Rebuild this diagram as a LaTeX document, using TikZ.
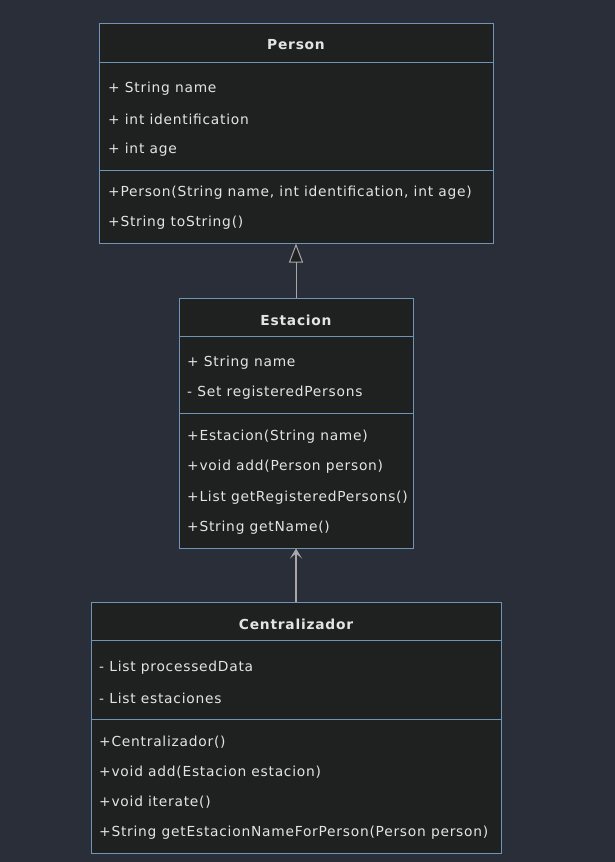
\documentclass[tikz,border=0pt]{standalone}
\usepackage{fontspec}
\setmainfont{DejaVu Sans}[LetterSpace=5.5]
\usetikzlibrary{arrows.meta,positioning}
\definecolor{bgcol}{HTML}{2A2E39}
\definecolor{boxfill}{HTML}{1F2020}
\definecolor{boxline}{HTML}{6F94B8}
\definecolor{txtcol}{HTML}{E4E4E4}
\definecolor{arrcol}{HTML}{A8A8A8}
\tikzset{
  classbox/.style={draw=boxline, fill=boxfill, line width=1pt, inner sep=0pt},
  divider/.style={draw=boxline, line width=1pt},
  title/.style={text=txtcol, font=\fontsize{13.8}{16}\selectfont\bfseries, inner sep=0pt},
  member/.style={text=txtcol, font=\fontsize{13.8}{16}\selectfont, anchor=west, inner sep=0pt},
  inherit/.style={draw=arrcol, line width=1pt, -{Triangle[open, fill=boxfill, length=19pt, width=14pt]}},
  assoc/.style={draw=arrcol, line width=1.2pt, -{Stealth[length=10pt, width=12pt, inset=5pt]}}
}
\begin{document}
\begin{tikzpicture}[x=1pt, y=-1pt]
  \useasboundingbox[fill=bgcol] (0,0) rectangle (615,862);
  % Person
  \node[classbox, minimum width=394pt, minimum height=220pt] (person) at (296,133) {};
  \draw[divider] (99,62) -- (493,62);
  \draw[divider] (99,170) -- (493,170);
  \node[title] (personT) at (296,45) {Person};
  \node[member] (p1) at (108,89) {+ String name};
  \node[member] (p2) at (108,119) {+ int identification};
  \node[member] (p3) at (108,150) {+ int age};
  \node[member] (p4) at (108,193) {+Person(String name, int identification, int age)};
  \node[member] (p5) at (108,223) {+String toString()};
  % Estacion
  \node[classbox, minimum width=234pt, minimum height=250pt] (estacion) at (296,423) {};
  \draw[divider] (179,336) -- (413,336);
  \draw[divider] (179,413) -- (413,413);
  \node[title] (estT) at (296,320) {Estacion};
  \node[member] (e1) at (187,363) {+ String name};
  \node[member] (e2) at (187,393) {- Set registeredPersons};
  \node[member] (e3) at (187,437) {+Estacion(String name)};
  \node[member] (e4) at (187,467) {+void add(Person person)};
  \node[member] (e5) at (187,498) {+List getRegisteredPersons()};
  \node[member] (e6) at (187,528) {+String getName()};
  % Centralizador
  \node[classbox, minimum width=410pt, minimum height=251pt] (central) at (296,727.5) {};
  \draw[divider] (91,640) -- (501,640);
  \draw[divider] (91,719) -- (501,719);
  \node[title] (cenT) at (296,624) {Centralizador};
  \node[member] (c1) at (99,668) {- List processedData};
  \node[member] (c2) at (99,698) {- List estaciones};
  \node[member] (c3) at (99,742) {+Centralizador()};
  \node[member] (c4) at (99,772) {+void add(Estacion estacion)};
  \node[member] (c5) at (99,802) {+void iterate()};
  \node[member] (c6) at (99,833) {+String getEstacionNameForPerson(Person person)};
  % relations
  \draw[inherit] (estacion.north) -- (person.south);
  \draw[assoc] (central.north) -- (estacion.south);
\end{tikzpicture}
\end{document}
